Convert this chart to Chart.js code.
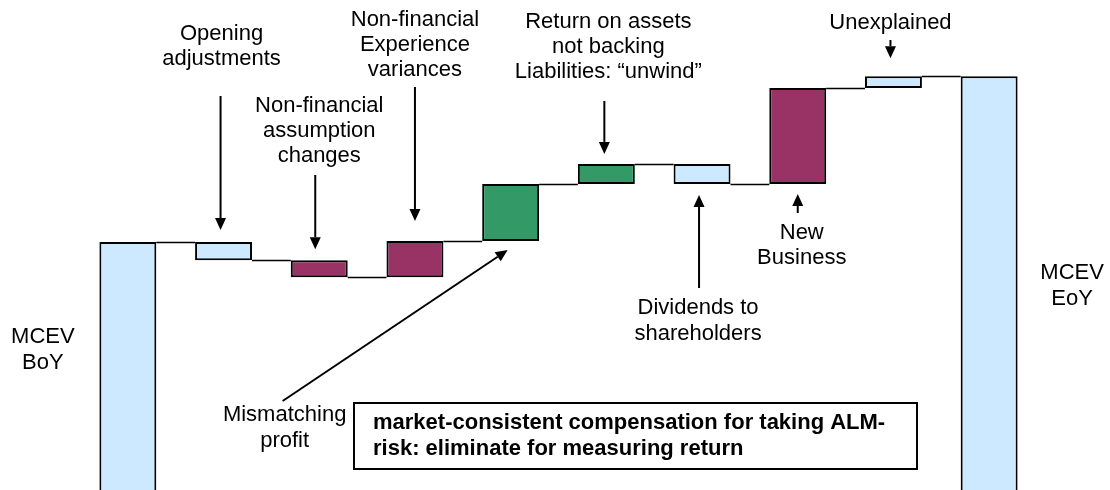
<!DOCTYPE html>
<html>
<head>
<meta charset="utf-8">
<script src="https://cdn.jsdelivr.net/npm/chart.js@4.4.0/dist/chart.umd.min.js"></script>
<style>
  html, body { margin: 0; padding: 0; background: #fff; }
  #wrap { width: 1110px; height: 490px; }
</style>
</head>
<body>
<div id="wrap"><canvas id="mcev" width="1110" height="490"></canvas></div>
<script>
// MCEV analysis of movement - waterfall
const categories = [
  'MCEV BoY', 'Opening adjustments', 'Non-financial assumption changes',
  'Non-financial Experience variances', 'Mismatching profit',
  'Return on assets not backing Liabilities: “unwind”', 'Dividends to shareholders',
  'New Business', 'Unexplained', 'MCEV EoY'
];
const openingMcev = 100;
// one movement per step between BoY and EoY (same units as openingMcev)
const movements = [-7.3, -6.9, 14.6, 23.0, 8.1, -8.1, 38.7, 4.8];
// colour group for each bar
const barGroups = ['total', 'other', 'nonfin', 'nonfin', 'fin', 'fin', 'other', 'nonfin', 'other', 'total'];

// text lines shown next to each bar
const labelLines = [
  ['MCEV', 'BoY'],
  ['Opening', 'adjustments'],
  ['Non-financial', 'assumption', 'changes'],
  ['Non-financial', 'Experience', 'variances'],
  ['Mismatching', 'profit'],
  ['Return on assets', 'not backing', 'Liabilities: “unwind”'],
  ['Dividends to', 'shareholders'],
  ['New', 'Business'],
  ['Unexplained'],
  ['MCEV', 'EoY']
];
const noteLines = ['market-consistent compensation for taking ALM-', 'risk: eliminate for measuring return'];

// build floating ranges
const ranges = [[0, openingMcev]];
const levels = [openingMcev];
let run = openingMcev;
movements.forEach(m => { ranges.push([run, run + m]); run += m; levels.push(run); });
ranges.push([0, run]);
levels.push(run);

const groupColors = { total: '#CCE9FF', other: '#CCE9FF', nonfin: '#993366', fin: '#339966' };

// where each label sits: dx from bar centre, line middles (px), arrow spec
const labelLayout = [
  { dx: -85, ys: [337, 363] },
  { dx: -2, ys: [34, 59], arrow: { dx: -3, tail: 96, gap: 12, dir: 'down' } },
  { dx: 0, ys: [106, 131, 156], arrow: { dx: -4, tail: 175, gap: 11, dir: 'down' } },
  { dx: 0, ys: [20, 45, 70], arrow: { dx: 0, tail: 87, gap: 20, dir: 'down' } },
  { dx: -226, ys: [415, 441], arrow: { dx: -3, tailDx: -228, tail: 401, gap: 9, dir: 'diag' } },
  { dx: 2, ys: [22, 47, 72], arrow: { dx: -2, tail: 101, gap: 10, dir: 'down' } },
  { dx: -4, ys: [308, 334], arrow: { dx: -3, tail: 288, gap: 11, dir: 'up' } },
  { dx: 4, ys: [233, 258], arrow: { dx: 0, tail: 213, gap: 10, dir: 'up' } },
  { dx: -3, ys: [23], arrow: { dx: -3, tail: 40, gap: 18, dir: 'down' } },
  { dx: 83, ys: [273, 299] }
];

function arrow(ctx, x1, y1, x2, y2){
  const ang = Math.atan2(y2 - y1, x2 - x1);
  const hl = 12, hw = 5.5;
  const bx = x2 - hl * Math.cos(ang), by = y2 - hl * Math.sin(ang);
  ctx.beginPath(); ctx.moveTo(x1, y1); ctx.lineTo(bx, by); ctx.stroke();
  ctx.beginPath();
  ctx.moveTo(x2, y2);
  ctx.lineTo(bx + hw * Math.sin(ang), by - hw * Math.cos(ang));
  ctx.lineTo(bx - hw * Math.sin(ang), by + hw * Math.cos(ang));
  ctx.closePath(); ctx.fill();
}

const annotate = {
  id: 'annotate',
  afterDatasetsDraw(chart){
    const ctx = chart.ctx, meta = chart.getDatasetMeta(0), ys = chart.scales.y;
    ctx.save();
    ctx.strokeStyle = '#000'; ctx.fillStyle = '#000';
    // connectors between steps
    ctx.lineWidth = 1.5;
    for (let i = 0; i < meta.data.length - 1; i++) {
      const a = meta.data[i], b = meta.data[i + 1];
      const y = Math.round(ys.getPixelForValue(levels[i])) + 0.5;
      ctx.beginPath();
      ctx.moveTo(a.x + a.width / 2, y);
      ctx.lineTo(b.x - b.width / 2, y);
      ctx.stroke();
    }
    // labels + arrows
    ctx.font = '22px "Liberation Sans", Arial, sans-serif';
    ctx.textAlign = 'center'; ctx.textBaseline = 'middle';
    ctx.lineWidth = 2;
    labelLayout.forEach((l, i) => {
      const el = meta.data[i];
      labelLines[i].forEach((t, k) => ctx.fillText(t, el.x + l.dx, l.ys[k]));
      if (!l.arrow) return;
      const ar = l.arrow;
      const top = Math.min(el.y, el.base), bottom = Math.max(el.y, el.base);
      const ax = el.x + ar.dx;
      if (ar.dir === 'down') arrow(ctx, ax, ar.tail, ax, top - ar.gap);
      else if (ar.dir === 'up') arrow(ctx, ax, ar.tail, ax, bottom + ar.gap);
      else arrow(ctx, el.x + ar.tailDx, ar.tail, ax, bottom + ar.gap);
    });
    // note box
    ctx.lineWidth = 2;
    ctx.strokeRect(354, 403, 563, 66);
    ctx.font = 'bold 22px "Liberation Sans", Arial, sans-serif';
    ctx.textAlign = 'left';
    noteLines.forEach((t, k) => ctx.fillText(t, 373, 423 + k * 26));
    ctx.restore();
  }
};

new Chart(document.getElementById('mcev').getContext('2d'), {
  type: 'bar',
  data: {
    labels: categories,
    datasets: [{
      data: ranges,
      backgroundColor: barGroups.map(g => groupColors[g]),
      borderColor: '#000',
      borderWidth: 2,
      // totals run off the bottom of the picture: no bottom edge
      borderSkipped: c => barGroups[c.dataIndex] === 'total' ? 'start' : false,
      barPercentage: 0.595,
      categoryPercentage: 1
    }]
  },
  options: {
    responsive: false,
    animation: false,
    layout: { padding: { left: 80, right: 73, top: 0, bottom: 0 } },
    plugins: { legend: { display: false }, tooltip: { enabled: false } },
    scales: {
      x: { display: false },
      y: { display: false, min: 0, max: 197.6 }
    }
  },
  plugins: [annotate]
});
</script>
</body>
</html>
